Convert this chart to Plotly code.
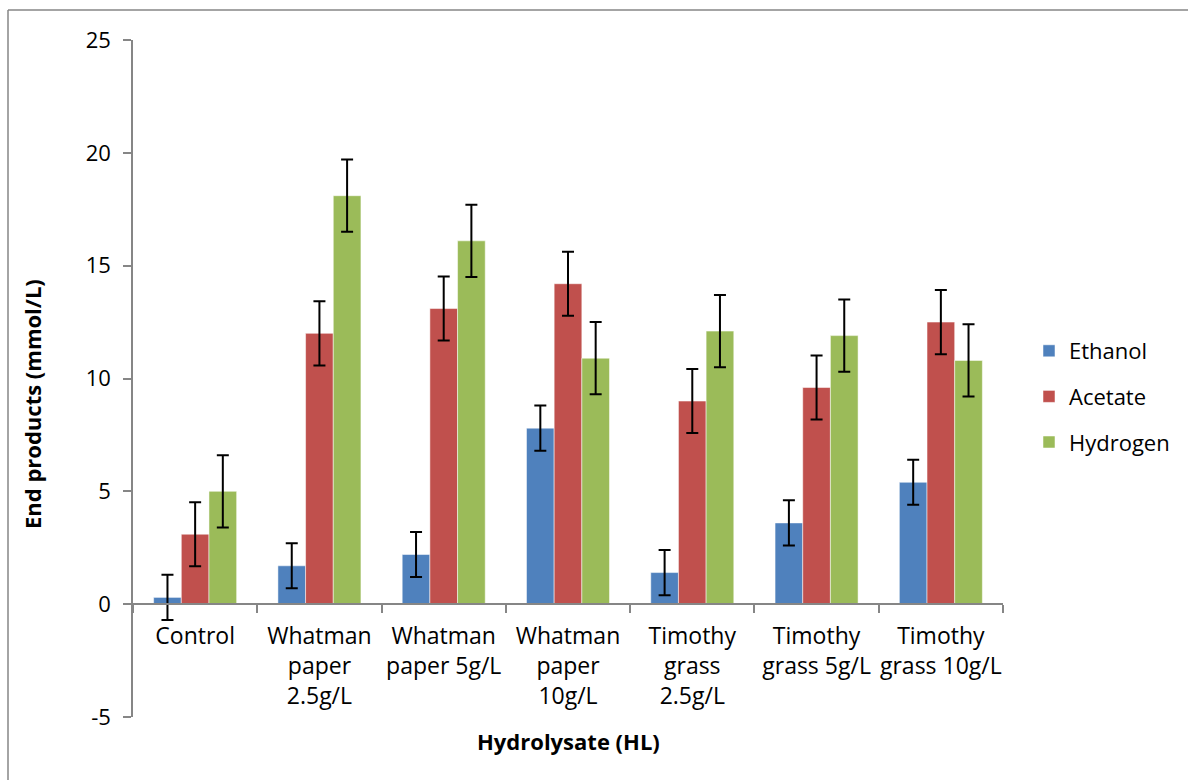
import plotly.graph_objects as go

categories = ["Control", "Whatman<br>paper<br>2.5g/L", "Whatman<br>paper 5g/L",
              "Whatman<br>paper<br>10g/L", "Timothy<br>grass<br>2.5g/L",
              "Timothy<br>grass 5g/L", "Timothy<br>grass 10g/L"]
ethanol = [0.3, 1.7, 2.2, 7.8, 1.4, 3.6, 5.4]
acetate = [3.1, 12.0, 13.1, 14.2, 9.0, 9.6, 12.5]
hydrogen = [5.0, 18.1, 16.1, 10.9, 12.1, 11.9, 10.8]
ethanol_err = [1.0, 1.0, 1.0, 1.0, 1.0, 1.0, 1.0]
acetate_err = [1.42, 1.42, 1.42, 1.42, 1.42, 1.42, 1.42]
hydrogen_err = [1.6, 1.6, 1.6, 1.6, 1.6, 1.6, 1.6]
y_ticks = [-5, 0, 5, 10, 15, 20, 25]
y_tick_labels = ["-5", "0", "5", "10", "15", "20", "25"]

FONT = "Open Sans"
series = [("Ethanol", ethanol, ethanol_err, "#4F81BD"),
          ("Acetate", acetate, acetate_err, "#C0504D"),
          ("Hydrogen", hydrogen, hydrogen_err, "#9BBB59")]

fig = go.Figure()
for name, vals, err, col in series:
    fig.add_trace(go.Bar(
        name=name, x=categories, y=vals, legendgroup=name,
        marker=dict(color=col, line=dict(color="rgba(255,255,255,0.5)", width=1)),
        error_y=dict(type="data", array=err, visible=True, color="black",
                     thickness=2, width=6),
    ))

L, R, T, B = 133, 185, 40, 63
W, H = 1188, 780
pw, ph = W - L - R, H - T - B

def px_x(x):
    return (x - L) / pw

def px_y(y):
    return (H - B - y) / ph

fig.update_layout(
    width=W, height=H,
    margin=dict(l=L, r=R, t=T, b=B, pad=0, autoexpand=False),
    paper_bgcolor="white", plot_bgcolor="white",
    barmode="group", bargap=0.332, bargroupgap=0,
    font=dict(family=FONT, size=22, color="black"),
    showlegend=True,
    legend=dict(x=px_x(1029), y=px_y(330), xanchor="left", yanchor="top",
                font=dict(size=22, family=FONT), traceorder="grouped",
                tracegroupgap=14, bgcolor="rgba(0,0,0,0)"),
    xaxis=dict(
        type="category", anchor="free", position=px_y(604),
        showline=True, linecolor="#868686", linewidth=1.5,
        ticks="outside", ticklen=8, tickcolor="#868686", tickwidth=1.5,
        tickson="boundaries", showgrid=False, zeroline=False, tickangle=0,
        automargin=False,
        tickfont=dict(size=23, family=FONT), ticklabelstandoff=12,
    ),
    yaxis=dict(
        range=[-5, 25], tickvals=y_ticks, ticktext=y_tick_labels,
        showline=True, linecolor="#868686",
        linewidth=1.5, ticks="outside", ticklen=8, tickcolor="#868686",
        tickwidth=1.5, showgrid=False, zeroline=False, automargin=False,
        tickfont=dict(size=22, family=FONT), ticklabelstandoff=8,
    ),
    annotations=[
        dict(text="<b>Hydrolysate (HL)</b>", xref="paper", yref="paper",
             x=px_x(568), y=px_y(741), xanchor="center", yanchor="middle",
             showarrow=False, font=dict(size=22, family=FONT)),
        dict(text="<b>End products (mmol/L)</b>", xref="paper", yref="paper",
             x=px_x(32), y=px_y(404), xanchor="center", yanchor="middle",
             textangle=-90, showarrow=False, font=dict(size=22, family=FONT)),
    ],
    shapes=[
        dict(type="line", xref="paper", yref="paper", x0=px_x(8), x1=px_x(1200),
             y0=px_y(10), y1=px_y(10), line=dict(color="#868686", width=1.5)),
        dict(type="line", xref="paper", yref="paper", x0=px_x(8), x1=px_x(8),
             y0=px_y(10), y1=px_y(790), line=dict(color="#868686", width=1.5)),
    ],
)

fig.write_html("out.html")
